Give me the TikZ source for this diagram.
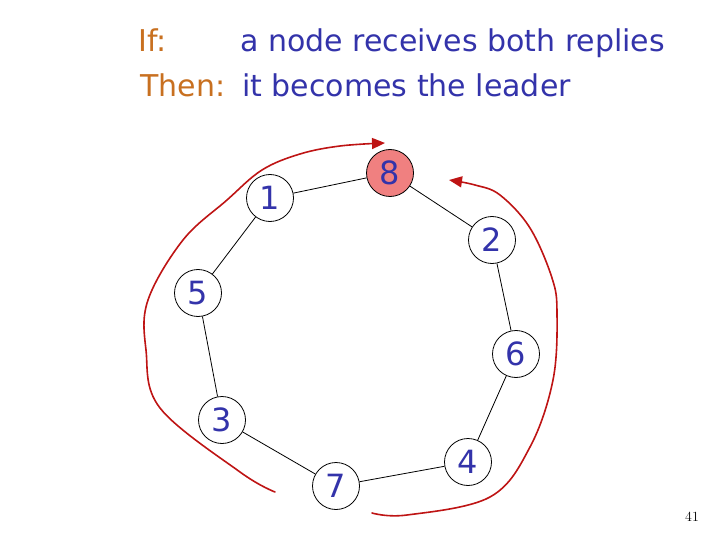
\documentclass[tikz,border=0pt]{standalone}
\usepackage{fontspec}
\setsansfont{DejaVu Sans}
\usetikzlibrary{arrows.meta}
\definecolor{txtblue}{RGB}{51,51,170}
\definecolor{txtorange}{RGB}{200,112,32}
\definecolor{leaderfill}{RGB}{240,128,128}
\definecolor{hand}{RGB}{190,20,20}
\tikzset{
  ring/.style={circle,draw=black,line width=0.8pt,minimum size=47pt,inner sep=0pt,
    font=\sffamily\fontsize{32}{32}\selectfont,text=txtblue},
  link/.style={draw=black,line width=0.8pt},
  handarrow/.style={draw=hand,line width=1.6pt,line cap=round,-{Triangle[length=13pt,width=11pt]}},
  heading/.style={anchor=base west,inner sep=0pt,font=\sffamily\fontsize{30}{30}\selectfont}
}
\begin{document}
\begin{tikzpicture}[x=1pt,y=-1pt]
\useasboundingbox (0,0) rectangle (720,540);
% heading
\node[heading,text=txtorange] (if) at (138,52) {If:};
\node[heading,text=txtblue] (cond) at (240,52) {a node receives both replies};
\node[heading,text=txtorange] (then) at (140,97) {Then:};
\node[heading,text=txtblue] (act) at (242,97) {it becomes the leader};
% ring
\node[ring,fill=leaderfill] (n8) at (390,173) {8};
\node[ring] (n1) at (270,198) {1};
\node[ring] (n2) at (492,240) {2};
\node[ring] (n5) at (198,293) {5};
\node[ring] (n6) at (516,354) {6};
\node[ring] (n3) at (222,420) {3};
\node[ring] (n7) at (336,486) {7};
\node[ring] (n4) at (468,462) {4};
\draw[link] (n1) -- (n8);
\draw[link] (n8) -- (n2);
\draw[link] (n2) -- (n6);
\draw[link] (n6) -- (n4);
\draw[link] (n4) -- (n7);
\draw[link] (n7) -- (n3);
\draw[link] (n3) -- (n5);
\draw[link] (n5) -- (n1);
% hand drawn replies
\draw[handarrow] plot[smooth,tension=0.6] coordinates {(275,492) (240,472) (160,408) (146,350) (148,300) (183,240) (227,200) (262,170) (300,154) (340,146) (385,143)};
\draw[handarrow] plot[smooth,tension=0.6] coordinates {(372,513) (407,515) (490,497) (530,447) (553,380) (557,313) (552,278) (530,228) (500,195) (475,185) (449,180)};
% page number
\node[anchor=base,inner sep=0pt,font=\fontsize{14}{14}\selectfont] (page) at (692,521) {41};
\end{tikzpicture}
\end{document}
